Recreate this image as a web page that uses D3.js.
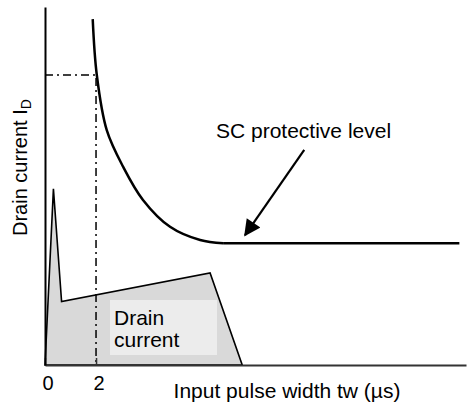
<!DOCTYPE html>
<html lang="en">
<head>
  <meta charset="utf-8" />
  <title>SC protective level vs input pulse width</title>
  <script src="https://cdn.jsdelivr.net/npm/d3@7/dist/d3.min.js"></script>
  <style>
    body { margin: 0; background: #fff; }
    svg text { font-family: "Liberation Sans", Arial, sans-serif; fill: #000; }
  </style>
</head>
<body>
<svg id="chart" width="467" height="414"></svg>
<script>
  // x in µs, y in arbitrary current units (0..100)
  const xTicks = [0, 2];
  const markTw = 2;
  const markLevel = 81;

  // SC protective level curve (tw, I) - last point is the end of the flat part
  const levelTw = [1.87, 2.03, 2.42, 3.06, 3.84, 4.9, 6.08, 6.98, 16.24];
  const levelI  = [96.6, 81.0, 65.6, 55.4, 46.1, 38.6, 34.9, 34.0, 34.0];

  // drain current waveform
  const drainTw = [0, 0.33, 0.65, 6.47, 7.73];
  const drainI  = [0, 49.2, 17.7, 25.7, 0];

  // arrow annotation: from -> to
  const arrowTw = [10.16, 7.84];
  const arrowI  = [60.1, 36.3];

  const svg = d3.select("#chart");
  const margin = { top: 7, right: 1, bottom: 49, left: 45 };
  const W = +svg.attr("width"), H = +svg.attr("height");

  const x = d3.scaleLinear().domain([0, 16.5]).range([margin.left, W - margin.right]);
  const y = d3.scaleLinear().domain([0, 100]).range([H - margin.bottom, margin.top]);

  // drain current area
  const drainPts = drainTw.map((t, i) => [x(t), y(drainI[i])]);
  svg.append("path")
    .attr("d", d3.line()(drainPts) + "Z")
    .attr("fill", "#d9d9d9")
    .attr("stroke", "#000")
    .attr("stroke-width", 1.6)
    .attr("stroke-linejoin", "miter");

  // label box inside area
  svg.append("rect")
    .attr("x", 110).attr("y", 300)
    .attr("width", 107).attr("height", 55)
    .attr("fill", "#ececec");
  svg.append("text").attr("x", 114).attr("y", 325).attr("font-size", 21).text("Drain");
  svg.append("text").attr("x", 114).attr("y", 347).attr("font-size", 21).text("current");

  // dash-dot guide lines
  svg.append("path")
    .attr("d", d3.line()([[x(0), y(markLevel)], [x(markTw), y(markLevel)], [x(markTw), y(0)]]))
    .attr("fill", "none")
    .attr("stroke", "#000")
    .attr("stroke-width", 1.5)
    .attr("stroke-dasharray", "8,4,2,4");

  // SC protective level: curved part, then flat line
  const levelPts = levelTw.map((t, i) => [x(t), y(levelI[i])]);
  const n = levelPts.length;
  svg.append("path")
    .attr("d", d3.line().curve(d3.curveCatmullRom.alpha(0.5))(levelPts.slice(0, n - 1)))
    .attr("fill", "none")
    .attr("stroke", "#000")
    .attr("stroke-width", 2.5);
  svg.append("path")
    .attr("d", d3.line()(levelPts.slice(n - 2)))
    .attr("fill", "none")
    .attr("stroke", "#000")
    .attr("stroke-width", 2.5);

  // axes
  svg.append("g")
    .attr("transform", "translate(0," + y(0) + ")")
    .call(d3.axisBottom(x).tickValues(xTicks).tickFormat(d3.format("d"))
      .tickSizeInner(-7).tickSizeOuter(0).tickPadding(11))
    .call(g => g.select(".domain").attr("stroke", "#333").attr("stroke-width", 2))
    .call(g => g.selectAll(".tick line").attr("stroke", "#333").attr("stroke-width", 1.5))
    .call(g => g.selectAll(".tick text")
      .attr("font-size", 20).attr("font-family", "Liberation Sans, Arial, sans-serif")
      .attr("fill", "#000").attr("dx", 2.5));

  svg.append("g")
    .attr("transform", "translate(" + x(0) + ",0)")
    .call(d3.axisLeft(y).tickValues([]).tickSizeOuter(0))
    .call(g => g.select(".domain").attr("stroke", "#000").attr("stroke-width", 2));

  // arrow
  svg.append("defs").append("marker")
    .attr("id", "head")
    .attr("viewBox", "0 0 10 10")
    .attr("refX", 9).attr("refY", 5)
    .attr("markerWidth", 8).attr("markerHeight", 7.5)
    .attr("markerUnits", "strokeWidth")
    .attr("orient", "auto")
    .append("path").attr("d", "M0,0L10,5L0,10Z").attr("fill", "#000");

  svg.append("line")
    .attr("x1", x(arrowTw[0])).attr("y1", y(arrowI[0]))
    .attr("x2", x(arrowTw[1])).attr("y2", y(arrowI[1]))
    .attr("stroke", "#000").attr("stroke-width", 2.2)
    .attr("marker-end", "url(#head)");

  svg.append("text")
    .attr("x", 216).attr("y", 138)
    .attr("font-size", 21)
    .text("SC protective level");

  // axis titles
  svg.append("text")
    .attr("x", 287).attr("y", 398)
    .attr("text-anchor", "middle")
    .attr("font-size", 21)
    .text("Input pulse width tw (µs)");

  const yl = svg.append("text")
    .attr("transform", "translate(27,236) rotate(-90)")
    .attr("font-size", 20);
  yl.append("tspan").text("Drain current I");
  yl.append("tspan").attr("font-size", 14).attr("dy", 4).text("D");
</script>
</body>
</html>
